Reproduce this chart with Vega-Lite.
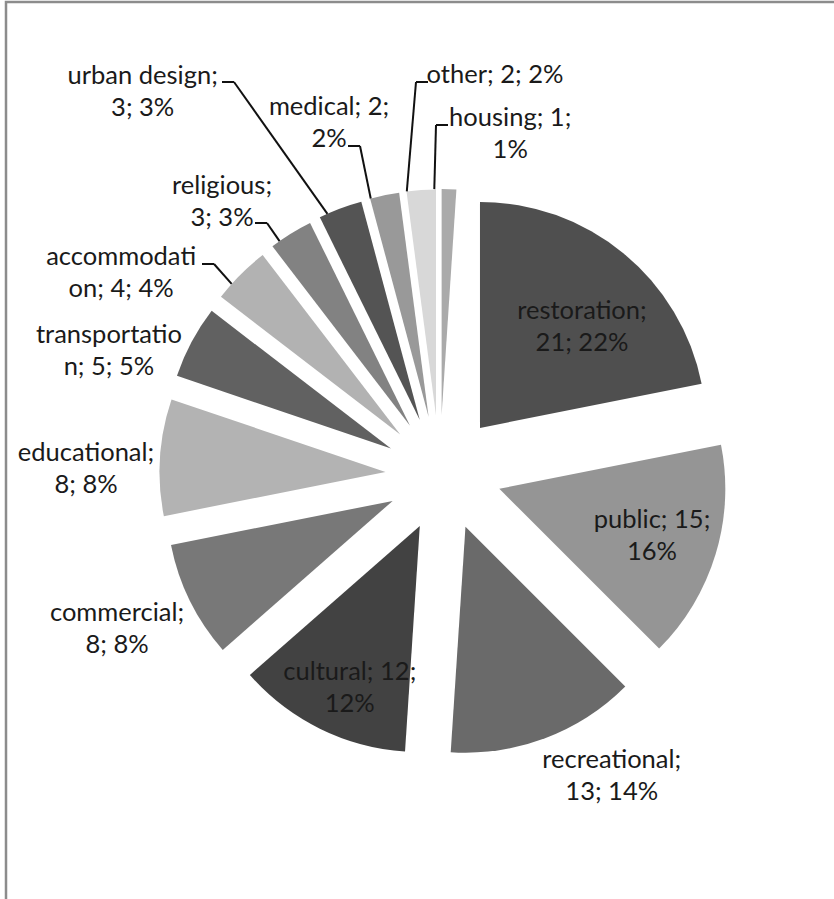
{
  "$schema": "https://vega.github.io/schema/vega-lite/v6.json",
  "width": 832,
  "height": 900,
  "autosize": "none",
  "padding": {"left": 6, "top": 2, "right": 0, "bottom": 0},
  "background": "white",
  "config": {"view": {"stroke": "#8c8c8c", "strokeWidth": 2.5}},
  "data": {"values": [
    {"category": "restoration", "count": 21, "label": "restoration;\n21; 22%"},
    {"category": "public", "count": 15, "label": "public; 15;\n16%"},
    {"category": "recreational", "count": 13, "label": "recreational;\n13; 14%"},
    {"category": "cultural", "count": 12, "label": "cultural; 12;\n12%"},
    {"category": "commercial", "count": 8, "label": "commercial;\n8; 8%"},
    {"category": "educational", "count": 8, "label": "educational;\n8; 8%"},
    {"category": "transportation", "count": 5, "label": "transportatio\nn; 5; 5%"},
    {"category": "accommodation", "count": 4, "label": "accommodati\non; 4; 4%"},
    {"category": "religious", "count": 3, "label": "religious;\n3; 3%"},
    {"category": "urban design", "count": 3, "label": "urban design;\n3; 3%"},
    {"category": "medical", "count": 2, "label": "medical; 2;\n2%"},
    {"category": "other", "count": 2, "label": "other; 2; 2%"},
    {"category": "housing", "count": 1, "label": "housing; 1;\n1%"}
  ]},
  "transform": [
    {"joinaggregate": [{"op": "sum", "field": "count", "as": "total"}]},
    {"window": [{"op": "sum", "field": "count", "as": "cum"}, {"op": "row_number", "as": "rn"}], "frame": [null, 0]},
    {"calculate": "datum.cum - datum.count", "as": "start"},
    {"calculate": "(datum.cum - datum.count / 2) / datum.total * 2 * PI", "as": "a"},
    {"calculate": "58 * sin(datum.a)", "as": "ex"},
    {"calculate": "58 * cos(datum.a)", "as": "ey"},
    {"calculate": "datum.ex + 226 * sin(datum.a)", "as": "sx"},
    {"calculate": "datum.ey + 226 * cos(datum.a)", "as": "sy"},
    {"calculate": "[45.1, 108.8, 151.6, 202.8, 243.3, 269.4, 288.8, 300.8, 319.9, 321.1, 341.5, 7.84, 11.4][datum.rn - 1] * PI / 180", "as": "la"},
    {"calculate": "[195.5, 220.3, 353.7, 241.8, 365.4, 357.5, 353.4, 375.3, 343.9, 479, 360.7, 377.5, 337.6][datum.rn - 1]", "as": "ld"},
    {"calculate": "datum.ld * sin(datum.la)", "as": "lx"},
    {"calculate": "datum.ld * cos(datum.la)", "as": "ly"},
    {"calculate": "[0, 0, 0, 0, 0, 0, 0, -241.5, -188.5, -221.5, -95.5, -15.5, 4.5][datum.rn - 1]", "as": "leadx"},
    {"calculate": "[0, 0, 0, 0, 0, 0, 0, 209, 250, 391, 327, 391, 348][datum.rn - 1]", "as": "leady"},
    {"calculate": "datum.leadx + (datum.sx > datum.leadx ? 12 : -12)", "as": "elbx"}
  ],
  "layer": [
    {
      "mark": {"type": "arc", "outerRadius": 226, "innerRadius": 0},
      "encoding": {
        "x": {"field": "ex", "type": "quantitative", "scale": {"domain": [-437.5, 394.5], "nice": false, "zero": false}, "axis": null},
        "y": {"field": "ey", "type": "quantitative", "scale": {"domain": [-429, 471], "nice": false, "zero": false}, "axis": null},
        "theta": {"field": "start", "type": "quantitative", "stack": null},
        "theta2": {"field": "cum"},
        "color": {
          "field": "category", "type": "nominal", "legend": null,
          "scale": {
            "domain": ["restoration", "public", "recreational", "cultural", "commercial", "educational", "transportation", "accommodation", "religious", "urban design", "medical", "other", "housing"],
            "range": ["#4f4f4f", "#959595", "#6a6a6a", "#424242", "#787878", "#b3b3b3", "#616161", "#b2b2b2", "#828282", "#545454", "#999999", "#d8d8d8", "#aaaaaa"]
          }
        }
      }
    },
    {
      "transform": [{"filter": "datum.rn >= 8"}],
      "mark": {"type": "rule", "color": "#111111", "strokeWidth": 2},
      "encoding": {
        "x": {"field": "sx", "type": "quantitative", "scale": {"domain": [-437.5, 394.5], "nice": false, "zero": false}, "axis": null},
        "y": {"field": "sy", "type": "quantitative", "scale": {"domain": [-429, 471], "nice": false, "zero": false}, "axis": null},
        "x2": {"field": "elbx"},
        "y2": {"field": "leady"}
      }
    },
    {
      "transform": [{"filter": "datum.rn >= 8"}],
      "mark": {"type": "rule", "color": "#111111", "strokeWidth": 2},
      "encoding": {
        "x": {"field": "elbx", "type": "quantitative", "scale": {"domain": [-437.5, 394.5], "nice": false, "zero": false}, "axis": null},
        "y": {"field": "leady", "type": "quantitative", "scale": {"domain": [-429, 471], "nice": false, "zero": false}, "axis": null},
        "x2": {"field": "leadx"},
        "y2": {"field": "leady"}
      }
    },
    {
      "mark": {"type": "text", "align": "center", "baseline": "alphabetic", "lineBreak": "\n", "lineHeight": 32, "dy": -16, "font": "Lato", "fontSize": 25.5, "color": "#1a1a1a"},
      "encoding": {
        "x": {"field": "lx", "type": "quantitative", "scale": {"domain": [-437.5, 394.5], "nice": false, "zero": false}, "axis": null},
        "y": {"field": "ly", "type": "quantitative", "scale": {"domain": [-429, 471], "nice": false, "zero": false}, "axis": null},
        "text": {"field": "label"}
      }
    }
  ]
}
